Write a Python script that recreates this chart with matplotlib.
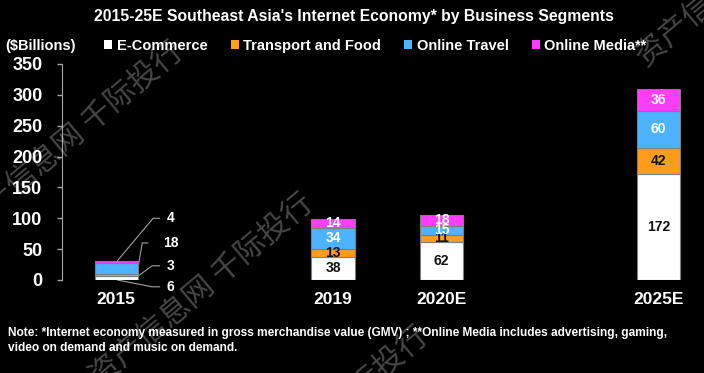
import numpy as np
import matplotlib.pyplot as plt
from matplotlib.patches import Patch

# data ($ billions)
years = ["2015", "2019", "2020E", "2025E"]
year_pos = [0, 2, 3, 5]
segments = ["E-Commerce", "Transport and Food", "Online Travel", "Online Media**"]
ecommerce = [6, 38, 62, 172]
transport = [3, 13, 11, 42]
travel = [18, 34, 15, 60]
media = [4, 14, 18, 36]

colors = ["#FFFFFF", "#FF9C1A", "#4DB2FF", "#FF3DFF"]
label_colors = ["#111111", "#111111", "#FFFFFF", "#FFFFFF"]

plt.rcParams['font.family'] = ['Liberation Sans', 'DejaVu Sans']
plt.rcParams['font.weight'] = 'bold'

fig = plt.figure(figsize=(7.04, 3.73), dpi=100, facecolor='black')
ax = fig.add_axes([62 / 704, 1 - 280 / 373, 642 / 704, 216 / 373])
ax.set_facecolor('black')

series = [ecommerce, transport, travel, media]
bottom = np.zeros(len(years))
bar_w = 0.4
for vals, col, lcol in zip(series, colors, label_colors):
    vals = np.array(vals, dtype=float)
    ax.bar(year_pos, vals, bar_w, bottom=bottom, color=col,
           edgecolor='#7F7F7F', linewidth=0.8, zorder=2)
    # labels inside bars (2015 is labelled outside)
    for i in range(1, len(years)):
        ax.text(year_pos[i], bottom[i] + vals[i] / 2, str(int(vals[i])),
                ha='center', va='center', color=lcol, fontsize=10,
                fontweight='bold', zorder=3)
    bottom += vals

# 2015 labels with leader lines
lead_grey = '#A0A0A0'
leaders = [
    ("4", [0.01, 0.34, 0.40], [31, 100, 100]),
    ("18", [0.20, 0.24, 0.29], [19, 60, 60]),
    ("3", [0.20, 0.33, 0.40], [6, 23, 23]),
    ("6", [0.01, 0.33, 0.40], [0, -11, -11]),
]
for txt, xs, ys in leaders:
    ax.plot(xs, ys, color=lead_grey, lw=0.8, clip_on=False, zorder=1)
    ax.text(0.5, ys[-1], txt, ha='center', va='center', color='white',
            fontsize=10, fontweight='bold')

ax.set_xlim(-0.5, 5.42)
ax.set_ylim(0, 350)
ax.set_yticks(range(0, 351, 50))
ax.set_xticks(year_pos)
ax.set_xticklabels(years)
ax.tick_params(axis='x', length=0, pad=9, labelsize=12.5, colors='white')
ax.tick_params(axis='y', length=3.6, width=1, color='#A6A6A6', pad=10.5,
               labelsize=13, labelcolor='white')
for lab in ax.get_xticklabels() + ax.get_yticklabels():
    lab.set_fontweight('bold')
for s in ['top', 'right', 'bottom']:
    ax.spines[s].set_visible(False)
ax.spines['left'].set_color('#A6A6A6')

fig.text(0.5 + 2 / 704, 1 - 17 / 373,
         "2015-25E Southeast Asia's Internet Economy* by Business Segments",
         ha='center', va='center', color='white', fontsize=11.3, fontweight='bold')
fig.text(5 / 704, 1 - 46 / 373, "($Billions)", ha='left', va='center',
         color='white', fontsize=10.5, fontweight='bold')

handles = [Patch(facecolor=c, edgecolor='none') for c in colors]
leg = fig.legend(handles, segments, ncol=4, loc='center left',
                 bbox_to_anchor=(91 / 704, 1 - 46 / 373), frameon=False,
                 handlelength=0.55, handleheight=0.55, handletextpad=0.3,
                 columnspacing=1.6, prop={'size': 10.5, 'weight': 'bold'})
for t in leg.get_texts():
    t.set_color('white')

fig.text(8 / 704, 1 - 340.5 / 373,
         "Note: *Internet economy measured in gross merchandise value (GMV) ; "
         "**Online Media includes advertising, gaming,\nvideo on demand and music on demand.",
         ha='left', va='center', color='white', fontsize=8.6, fontweight='bold',
         linespacing=1.3)

# watermark
wm = "资产信息网 千际投行"
wm_kw = dict(color='white', alpha=0.28, fontsize=22, rotation=40,
             rotation_mode='anchor', fontweight='light',
             family=['Noto Sans CJK SC', 'DejaVu Sans'])
fig.text(202 / 704, 1 - 290 / 373, wm, ha='center', va='center', **wm_kw)
fig.text(72 / 704, 1 - 138 / 373, wm, ha='center', va='center', **wm_kw)
fig.text(640 / 704, 1 - 60 / 373, wm, ha='left', va='center', **wm_kw)
fig.text(424 / 704, 1 - 333 / 373, wm, ha='right', va='center', **wm_kw)

fig.savefig("out.png", dpi=100, facecolor='black')
